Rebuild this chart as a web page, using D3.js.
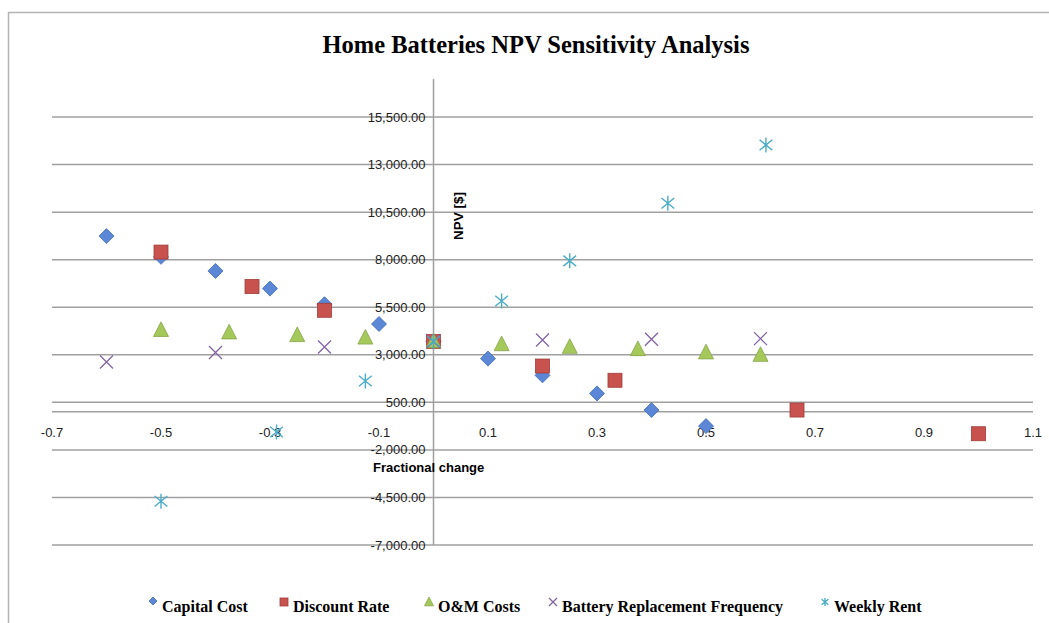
<!DOCTYPE html>
<html><head><meta charset="utf-8">
<script src="https://cdn.jsdelivr.net/npm/d3@7"></script>
<style>
body{margin:0;background:#fff;}
svg{display:block;}
</style></head>
<body>
<svg id="c" width="1049" height="623"></svg>
<script>
// ---- data ----
const seriesNames = ["Capital Cost","Discount Rate","O&M Costs","Battery Replacement Frequency","Weekly Rent"];
const capitalX = [-0.6,-0.5,-0.4,-0.3,-0.2,-0.1,0,0.1,0.2,0.3,0.4,0.5];
const capitalY = [9240,8150,7410,6480,5660,4620,3700,2800,1920,970,95,-750];
const discountX = [-0.5,-0.333,-0.2,0,0.2,0.333,0.667,1.0];
const discountY = [8400,6590,5340,3700,2410,1660,95,-1150];
const omX = [-0.5,-0.375,-0.25,-0.125,0,0.125,0.25,0.375,0.5,0.6];
const omY = [4300,4170,4030,3900,3700,3550,3410,3290,3120,2990];
const batteryX = [-0.6,-0.4,-0.2,0,0.2,0.4,0.6];
const batteryY = [2620,3120,3410,3700,3780,3820,3850];
const rentX = [-0.5,-0.288,-0.125,0,0.125,0.25,0.43,0.61];
const rentY = [-4700,-1060,1620,3700,5830,7940,10970,14030];
const xTicks = [-0.7,-0.5,-0.3,-0.1,0.1,0.3,0.5,0.7,0.9,1.1];
const yTicks = [-7000,-4500,-2000,500,3000,5500,8000,10500,13000,15500];

const svg = d3.select("#c");
const W = 1049, H = 623;
const loc = d3.formatLocale({decimal:".",thousands:",",grouping:[3],currency:["$",""],minus:"-"});

// chart border
svg.append("rect").attr("x",8.5).attr("y",12.5).attr("width",W+10).attr("height",H+10)
  .attr("fill","none").attr("stroke","#b4b4b4").attr("stroke-width",1.5);

const x = d3.scaleLinear().domain([-0.7,1.1]).range([52,1033]);
const y = d3.scaleLinear().domain([-7000,17500]).range([545,79]);

// gridlines
svg.append("g").selectAll("line").data(yTicks).join("line")
  .attr("x1",x.range()[0]).attr("x2",x.range()[1])
  .attr("y1",d=>y(d)).attr("y2",d=>y(d))
  .attr("stroke","#a0a0a0").attr("stroke-width",1.5);

// x axis line at 0
svg.append("line").attr("x1",x.range()[0]).attr("x2",x.range()[1])
  .attr("y1",y(0)).attr("y2",y(0)).attr("stroke","#a0a0a0").attr("stroke-width",1.5);
// y axis line at 0
svg.append("line").attr("x1",x(0)).attr("x2",x(0))
  .attr("y1",y(17500)).attr("y2",y(-7000)).attr("stroke","#a0a0a0").attr("stroke-width",1.5);

// y tick labels
const fmt = loc.format(",.2f");
svg.append("g").selectAll("text").data(yTicks).join("text")
  .attr("x",x(0)-8).attr("y",d=>y(d)).attr("dy","0.35em")
  .attr("text-anchor","end").attr("font-family","Liberation Sans, Arial, sans-serif")
  .attr("font-size",13).attr("fill","#222").text(d=>fmt(d));

// x tick labels
const fx = loc.format("");
svg.append("g").selectAll("text").data(xTicks).join("text")
  .attr("x",d=>x(d)).attr("y",y(0)+21).attr("dy","0.35em")
  .attr("text-anchor","middle").attr("font-family","Liberation Sans, Arial, sans-serif")
  .attr("font-size",13).attr("fill","#222").text(d=>fx(d));

// title
svg.append("text").attr("x",536).attr("y",53).attr("text-anchor","middle")
  .attr("font-family","Liberation Serif, Times New Roman, serif").attr("font-weight","bold")
  .attr("font-size",24.5).attr("fill","#000").text("Home Batteries NPV Sensitivity Analysis");

// axis titles
svg.append("text").attr("transform","translate(463,216) rotate(-90)")
  .attr("text-anchor","middle").attr("font-family","Liberation Sans, Arial, sans-serif")
  .attr("font-weight","bold").attr("font-size",13.5).attr("fill","#000").text("NPV [$]");
svg.append("text").attr("x",373).attr("y",467).attr("dy","0.35em")
  .attr("font-family","Liberation Sans, Arial, sans-serif")
  .attr("font-weight","bold").attr("font-size",13).attr("fill","#000").text("Fractional change");

// markers
const colors = ["#4F81BD","#C0504D","#9BBB59","#8064A2","#4BACC6"];
const fills = ["#5b87d6","#c8524e","#a4c95a","none","none"];
function drawMarker(g, type, s, col, fill){
  if(type===0){
    g.append("path").attr("d",`M0,${-s}L${s},0L0,${s}L${-s},0Z`).attr("fill",fill).attr("stroke","#3f69b0").attr("stroke-width",0.8);
  } else if(type===1){
    g.append("rect").attr("x",-s).attr("y",-s).attr("width",2*s).attr("height",2*s).attr("fill",fill).attr("stroke","#a03c3a").attr("stroke-width",0.8);
  } else if(type===2){
    g.append("path").attr("d",`M0,${-s*1.1}L${s},${s*0.85}L${-s},${s*0.85}Z`).attr("fill",fill).attr("stroke","#86a548").attr("stroke-width",0.8);
  } else if(type===3){
    g.append("path").attr("d",`M${-s},${-s}L${s},${s}M${-s},${s}L${s},${-s}`).attr("stroke",col).attr("stroke-width",1.3).attr("fill","none");
  } else {
    g.append("path").attr("d",`M0,${-s}L0,${s}M${-s*0.85},${-s*0.7}L${s*0.85},${s*0.7}M${-s*0.85},${s*0.7}L${s*0.85},${-s*0.7}`)
      .attr("stroke",col).attr("stroke-width",1.4).attr("fill","none");
  }
}
const allSeries = [[capitalX,capitalY],[discountX,discountY],[omX,omY],[batteryX,batteryY],[rentX,rentY]];
const sizes = [7.5,7,7.5,6.5,7.5];
allSeries.forEach(([xs,ys],i)=>{
  const g = svg.append("g");
  xs.forEach((xv,j)=>{
    const m = g.append("g").attr("transform",`translate(${x(xv)},${y(ys[j])})`);
    drawMarker(m,i,sizes[i],colors[i],fills[i]);
  });
});

// legend
const legX = [153,284,429,553,825];
const lg = svg.append("g");
seriesNames.forEach((n,i)=>{
  const m = lg.append("g").attr("transform",`translate(${legX[i]},${i===0?601:602})`);
  drawMarker(m,i,i===2?4.5:4,colors[i],fills[i]);
  lg.append("text").attr("x",legX[i]+9).attr("y",606).attr("dy","0.35em")
    .attr("font-family","Liberation Serif, Times New Roman, serif").attr("font-weight","bold")
    .attr("font-size",16).attr("fill","#000").text(n);
});
</script>
</body></html>
